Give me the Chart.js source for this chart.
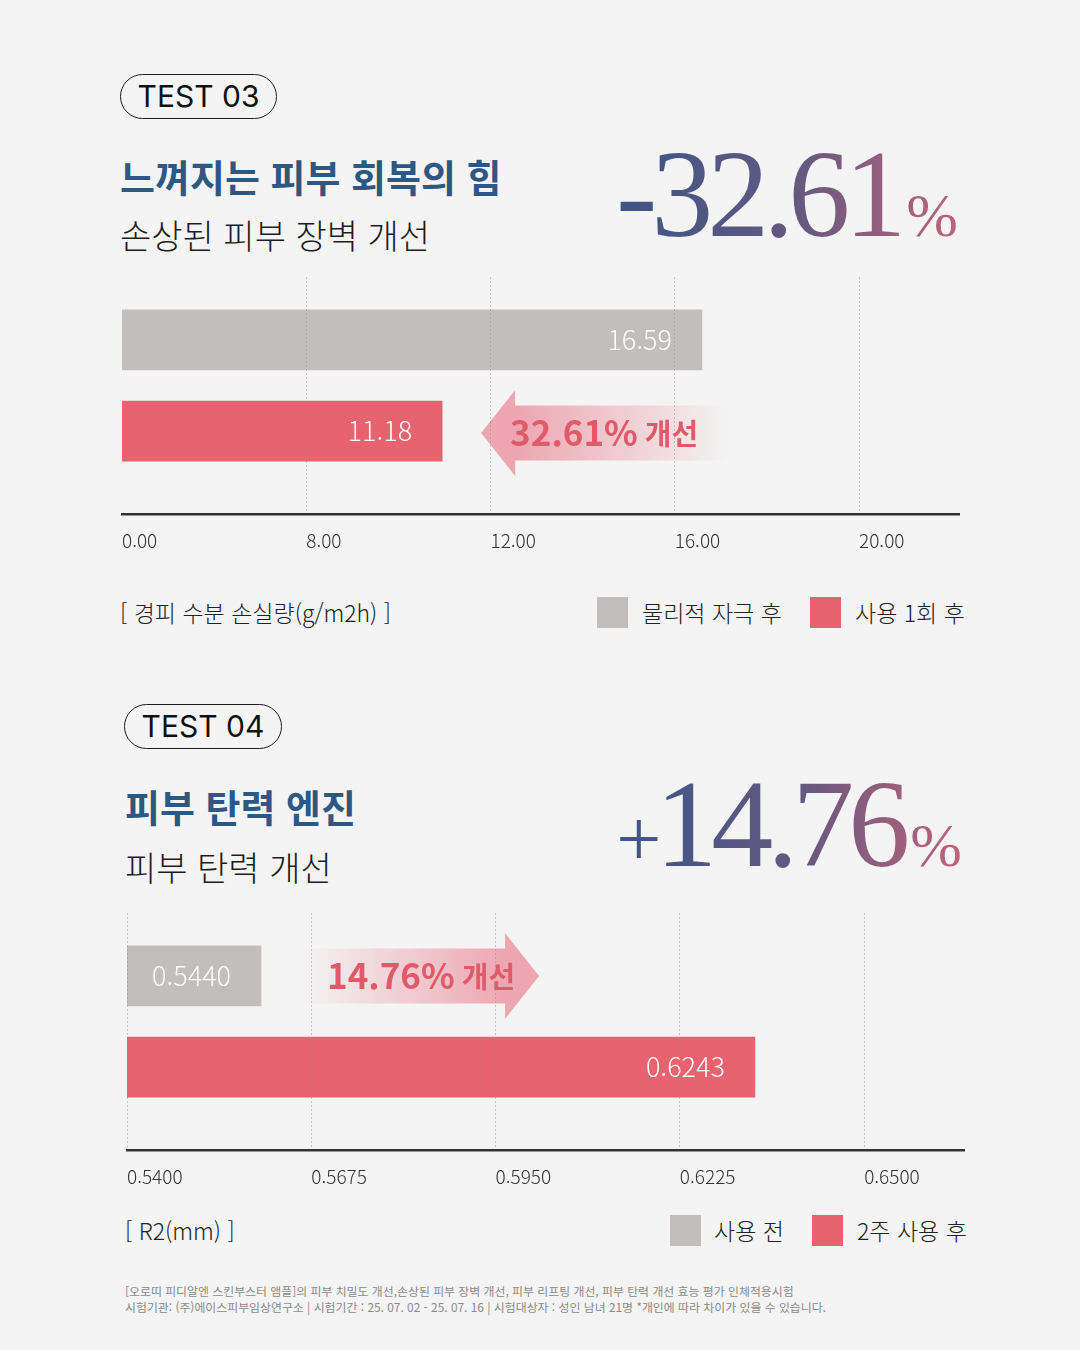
<!DOCTYPE html>
<html lang="ko">
<head>
<meta charset="utf-8">
<title>피부 장벽 · 탄력 개선</title>
<script src="https://cdn.jsdelivr.net/npm/chart.js@4.4.1/dist/chart.umd.min.js"></script>
<style>
    html, body { margin: 0; padding: 0; }
    body {
        width: 1080px; height: 1350px; position: relative; overflow: hidden;
        background: #f4f4f4; color: #222;
        font-family: "Noto Sans CJK KR", "Noto Sans", sans-serif;
    }
    .pill {
        position: absolute; box-sizing: border-box; height: 45px;
        border: 1.4px solid #1e1e1e; border-radius: 23px;
        font: 400 30px Inter, "Noto Sans", sans-serif; line-height: 42px;
        text-align: center; color: #111;
    }
    .title { position: absolute; font-size: 38px; font-weight: 700; color: #2d5884; line-height: 1; white-space: nowrap; }
    .subtitle { position: absolute; font-size: 34px; font-weight: 300; color: #1d1d1d; line-height: 1; white-space: nowrap; }
    .big {
        position: absolute; text-align: right; white-space: nowrap;
        font-family: "Liberation Serif", "DejaVu Serif", serif; font-size: 124px; line-height: 124px;
        background: linear-gradient(90deg, #3c5587 0%, #67597f 55%, #c1637a 100%);
        -webkit-background-clip: text; background-clip: text; color: transparent;
    }
    .big .num { letter-spacing: -6px; }
    .big .sign { font-size: 80px; }
    .big .pct { font-size: 62px; margin-left: 6px; }
    .chart-box { position: absolute; left: 0; width: 1080px; height: 317px; }
    .unit { position: absolute; font-size: 23px; font-weight: 300; color: #222; white-space: nowrap; line-height: 30px; }
    .key { position: absolute; font-size: 23px; font-weight: 300; color: #222; white-space: nowrap; line-height: 30px; }
    .swatch { position: absolute; width: 31px; height: 31px; }
    .note { position: absolute; left: 125px; top: 1283px; font-size: 11.9px; line-height: 16px; color: #8a8a8a; white-space: nowrap; }
</style>
</head>
<body>

<div class="pill" style="left:120px; top:74px; width:157px;">TEST 03</div>
<div class="title" style="left:120px; top:157px;">느껴지는 피부 회복의 힘</div>
<div class="subtitle" style="left:120px; top:218px;">손상된 피부 장벽 개선</div>
<div class="big" style="right:122px; top:133px;"><span class="num">-32.61</span><span class="pct">%</span></div>

<div class="chart-box" style="top:257px;"><canvas id="lossChart"></canvas></div>

<div class="unit" style="left:120px; top:597px;">[ 경피 수분 손실량(g/m2h) ]</div>
<div class="swatch" id="lossKey0" style="left:597px; top:597px;"></div>
<div class="key" id="lossName0" style="left:642px; top:597px;"></div>
<div class="swatch" id="lossKey1" style="left:810px; top:597px;"></div>
<div class="key" id="lossName1" style="left:855px; top:597px;"></div>

<div class="pill" style="left:124px; top:704px; width:158px;">TEST 04</div>
<div class="title" style="left:125px; top:787px;">피부 탄력 엔진</div>
<div class="subtitle" style="left:125px; top:850px;">피부 탄력 개선</div>
<div class="big" style="right:118px; top:763px;"><span class="num"><span class="sign">+</span>14.76</span><span class="pct">%</span></div>

<div class="chart-box" style="top:893px;"><canvas id="elasticChart"></canvas></div>

<div class="unit" style="left:125px; top:1215px;">[ R2(mm) ]</div>
<div class="swatch" id="elasticKey0" style="left:670px; top:1215px;"></div>
<div class="key" id="elasticName0" style="left:714px; top:1215px;"></div>
<div class="swatch" id="elasticKey1" style="left:812px; top:1215px;"></div>
<div class="key" id="elasticName1" style="left:857px; top:1215px;"></div>

<div class="note">
    [오로띠 피디알엔 스킨부스터 앰플]의 피부 치밀도 개선,손상된 피부 장벽 개선, 피부 리프팅 개선, 피부 탄력 개선 효능 평가 인체적용시험<br>
    시험기관: (주)에이스피부임상연구소 | 시험기간 : 25. 07. 02 - 25. 07. 16 | 시험대상자 : 성인 남녀 21명 *개인에 따라 차이가 있을 수 있습니다.
</div>

<script>
const GRAY = '#c1bebd';
const RED = '#e76370';

// TEST 03 - 경피 수분 손실량 (g/m2h)
const lossSeries = ['물리적 자극 후', '사용 1회 후'];
const lossLabels = ['16.59', '11.18'];
const lossBarEnds = [16.59, 10.95];          // where each bar stops, read against the axis
// the axis is broken: its first gridline is printed 0.00 but sits one step (4) before 8.00
const lossTicks = [4, 8, 12, 16, 20];
const lossTickLabels = ['0.00', '8.00', '12.00', '16.00', '20.00'];
const lossChange = '32.61%';

// TEST 04 - R2 (mm)
const elasticSeries = ['사용 전', '2주 사용 후'];
const elasticLabels = ['0.5440', '0.6243'];
const elasticBarEnds = [0.5600, 0.6337];     // read against the axis, the picture does not scale them to their labels
const elasticTicks = [0.54, 0.5675, 0.595, 0.6225, 0.65];
const elasticTickLabels = ['0.5400', '0.5675', '0.5950', '0.6225', '0.6500'];
const elasticChange = '14.76%';

function fillLegend(prefix, names) {
    [GRAY, RED].forEach((c, i) => {
        document.getElementById(prefix + 'Key' + i).style.background = c;
        document.getElementById(prefix + 'Name' + i).textContent = names[i];
    });
}
fillLegend('loss', lossSeries);
fillLegend('elastic', elasticSeries);

// white value text inside each bar
const barText = {
    id: 'barText',
    afterDatasetsDraw(chart, args, opts) {
        const ctx = chart.ctx;
        ctx.save();
        ctx.font = '300 27px "Noto Sans CJK KR"';
        ctx.fillStyle = '#fff';
        ctx.textBaseline = 'middle';
        chart.getDatasetMeta(0).data.forEach((bar, i) => {
            if (bar.x - bar.base < 200) {
                ctx.textAlign = 'center';
                ctx.fillText(opts.labels[i], (bar.x + bar.base) / 2, bar.y);
            } else {
                ctx.textAlign = 'right';
                ctx.fillText(opts.labels[i], bar.x - 30, bar.y);
            }
        });
        ctx.restore();
    }
};

// fading arrow with the improvement text
const changeArrow = {
    id: 'changeArrow',
    afterDatasetsDraw(chart, args, opts) {
        const ctx = chart.ctx;
        const bar = chart.getDatasetMeta(0).data[opts.bar];
        const s = opts.dir === 'left' ? -1 : 1;
        const len = opts.length, head = 34, bodyH = 55, headH = 86;
        let tail, tip;
        if (s < 0) { tip = bar.x + opts.gap; tail = tip + len; }
        else { tail = bar.x + opts.gap; tip = tail + len; }
        const cy = bar.y + (opts.dy || 0);
        const hb = tip - s * head;

        ctx.save();
        const g = ctx.createLinearGradient(tail, 0, tip, 0);
        g.addColorStop(0, 'rgba(236,150,163,0)');
        g.addColorStop(0.85, 'rgba(236,150,163,0.82)');
        g.addColorStop(1, 'rgba(236,150,163,0.85)');
        ctx.fillStyle = g;
        ctx.beginPath();
        ctx.moveTo(tail, cy - bodyH / 2);
        ctx.lineTo(hb, cy - bodyH / 2);
        ctx.lineTo(hb, cy - headH / 2);
        ctx.lineTo(tip, cy);
        ctx.lineTo(hb, cy + headH / 2);
        ctx.lineTo(hb, cy + bodyH / 2);
        ctx.lineTo(tail, cy + bodyH / 2);
        ctx.closePath();
        ctx.fill();

        const f1 = '700 35px "Noto Sans CJK KR"', f2 = '700 29px "Noto Sans CJK KR"';
        ctx.font = f1; const w1 = ctx.measureText(opts.text).width;
        ctx.font = f2; const w2 = ctx.measureText('개선').width;
        const gap = 7;
        let x = (tail + tip) / 2 - (w1 + gap + w2) / 2;
        ctx.fillStyle = '#e05a69';
        ctx.textBaseline = 'middle';
        ctx.textAlign = 'left';
        ctx.font = f1; ctx.fillText(opts.text, x, cy);
        ctx.font = f2; ctx.fillText('개선', x + w1 + gap, cy + 1);
        ctx.restore();
    }
};

function buildChart(id, cfg) {
    return new Chart(document.getElementById(id), {
        type: 'bar',
        data: {
            datasets: [{
                data: cfg.ends.map((v, i) => ({ x: v, y: i })),
                backgroundColor: [GRAY, RED],
                barThickness: 60,
                borderWidth: 0
            }]
        },
        options: {
            indexAxis: 'y',
            responsive: true,
            maintainAspectRatio: false,
            animation: false,
            events: [],
            layout: { padding: { left: cfg.left, right: 1080 - cfg.right, top: 20, bottom: 10 } },
            plugins: {
                legend: { display: false },
                tooltip: { enabled: false },
                barText: { labels: cfg.labels },
                changeArrow: cfg.arrow
            },
            scales: {
                x: {
                    type: 'linear',
                    min: cfg.min,
                    max: cfg.max,
                    afterBuildTicks: scale => { scale.ticks = cfg.ticks.map(v => ({ value: v })); },
                    afterFit: scale => { scale.height = 50; },
                    grid: {
                        z: 1,
                        drawTicks: false,
                        lineWidth: 1,
                        color: c => (c.index === 0 && !cfg.firstGrid) ? 'rgba(0,0,0,0)' : 'rgba(140,140,140,0.45)'
                    },
                    border: { display: true, z: 1, color: '#333', width: 2.5, dash: [2, 2] },
                    ticks: {
                        align: 'start',
                        padding: 15,
                        color: '#333',
                        font: { family: '"Noto Sans CJK KR"', size: 19, weight: 300 },
                        autoSkip: false,
                        maxRotation: 0,
                        callback: (v, i) => cfg.tickLabels[i]
                    }
                },
                y: {
                    type: 'linear',
                    display: false,
                    offset: false,
                    reverse: true,
                    min: -0.69,
                    max: 1.91
                }
            }
        },
        plugins: [barText, changeArrow]
    });
}

buildChart('lossChart', {
    ends: lossBarEnds, labels: lossLabels,
    ticks: lossTicks, tickLabels: lossTickLabels,
    min: 4, max: 22.17, left: 122, right: 959, firstGrid: false,
    arrow: { bar: 1, dir: 'left', gap: 39, length: 246, dy: 2, text: lossChange }
});

buildChart('elasticChart', {
    ends: elasticBarEnds, labels: elasticLabels,
    ticks: elasticTicks, tickLabels: elasticTickLabels,
    min: 0.54, max: 0.6649, left: 127, right: 964, firstGrid: true,
    arrow: { bar: 0, dir: 'right', gap: 42, length: 236, dy: 0, text: elasticChange }
});
</script>
</body>
</html>
